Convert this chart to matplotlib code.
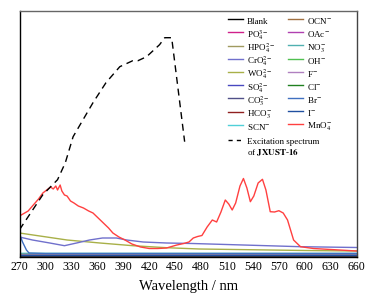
import numpy as np
import matplotlib
matplotlib.use('Agg')
import matplotlib.pyplot as plt
from matplotlib.lines import Line2D

plt.rcParams['font.family'] = ['Liberation Serif', 'DejaVu Serif']
plt.rcParams['mathtext.fontset'] = 'stix'

# excitation spectrum of JXUST-16 (dashed)
exc_wl = [270, 297, 314, 323, 332, 355, 370, 386, 401, 407, 417, 432, 438, 446, 461]
exc_int = [27, 62, 77, 94, 120, 154, 174, 190, 196, 196, 200, 212, 219, 219, 115]

# MnO4- absorption
mno4_wl = [270, 280, 286, 292, 297, 303, 306, 309, 312, 314, 317, 319, 322, 325, 329, 333,
           338, 344, 350, 355, 361, 367, 373, 378, 385, 392, 400, 410, 420, 430, 440, 452,
           460, 466, 471, 476, 481, 487, 493, 498, 503, 508, 512, 516, 520, 525, 529, 533,
           537, 541, 546, 551, 555, 560, 565, 570, 575, 580, 587, 595, 610, 630, 660]
mno4_int = [40.7, 45.7, 51.7, 57.7, 63.7, 67.7, 69.7, 67.7, 70.7, 66.7, 71.7, 65.7, 61.7, 60.7, 55.7, 53.7,
            50.7, 48.7, 45.7, 43.7, 38.7, 33.7, 28.7, 23.7, 19.7, 16.7, 12.7, 9.7, 8.2, 8.2, 8.7, 11.7,
            13.2, 14.7, 18.7, 20.2, 21.2, 29.7, 36.7, 34.7, 44.7, 56.7, 52.7, 46.7, 53.7, 70.7, 78.2, 68.7,
            55.0, 60.7, 73.7, 77.4, 66.7, 45.0, 44.7, 46.0, 43.7, 36.7, 16.7, 10.0, 8.2, 7.2, 5.7]

# CrO4 2-
cro4_wl = [270, 285, 305, 322, 336, 351, 366, 382, 394, 413, 440, 470, 595, 660]
cro4_int = [19.7, 16.7, 13.7, 11.0, 13.7, 16.7, 18.7, 18.7, 16.7, 14.7, 13.7, 13.2, 10.0, 9.2]

# WO4 2-
wo4_wl = [270, 325, 363, 401, 440, 478, 600, 660]
wo4_int = [23.7, 16.7, 13.7, 11.0, 9.0, 7.7, 6.2, 5.7]

# Br-
br_wl = [270, 273.5, 278, 281, 300, 660]
br_int = [22.7, 14.7, 6.7, 3.7, 3.2, 3.2]

# remaining ions: nearly flat baselines
base_wl = [270, 660]
base_levels = {
    'Blank': [1.2, 1.2], 'PO4': [1.8, 1.8], 'HPO4': [2.2, 2.2], 'SO4': [1.6, 1.6],
    'CO3': [1.4, 1.4], 'HCO3': [2.0, 2.0], 'SCN': [3.4, 3.4], 'OCN': [2.4, 2.4],
    'OAc': [2.6, 2.6], 'NO3': [3.3, 3.3], 'OH': [2.8, 2.8], 'F': [2.3, 2.3],
    'Cl': [2.1, 2.1], 'I': [1.5, 1.5],
}

colors = {
    'Blank': '#000000', 'PO4': '#d0208a', 'HPO4': '#a09a60', 'CrO4': '#7070cc',
    'WO4': '#a8b048', 'SO4': '#4848c0', 'CO3': '#505088', 'HCO3': '#902020',
    'SCN': '#50d0d8', 'OCN': '#a07040', 'OAc': '#b040b0', 'NO3': '#50b0b0',
    'OH': '#50c050', 'F': '#b080c0', 'Cl': '#208020', 'Br': '#4070c0',
    'I': '#2050a0', 'MnO4': '#ff4040',
}
labels = {
    'Blank': 'Blank', 'PO4': r'PO$_4^{3-}$', 'HPO4': r'HPO$_4^{2-}$', 'CrO4': r'CrO$_4^{2-}$',
    'WO4': r'WO$_4^{2-}$', 'SO4': r'SO$_4^{2-}$', 'CO3': r'CO$_3^{2-}$', 'HCO3': r'HCO$_3^{-}$',
    'SCN': r'SCN$^{-}$', 'OCN': r'OCN$^{-}$', 'OAc': r'OAc$^{-}$', 'NO3': r'NO$_3^{-}$',
    'OH': r'OH$^{-}$', 'F': r'F$^{-}$', 'Cl': r'Cl$^{-}$', 'Br': r'Br$^{-}$',
    'I': r'I$^{-}$', 'MnO4': r'MnO$_4^{-}$',
}
order = ['Blank', 'PO4', 'HPO4', 'CrO4', 'WO4', 'SO4', 'CO3', 'HCO3', 'SCN',
         'OCN', 'OAc', 'NO3', 'OH', 'F', 'Cl', 'Br', 'I', 'MnO4']

fig = plt.figure(figsize=(3.92, 3.04), dpi=100)
ax = fig.add_axes([19.5 / 392, 1 - 256.7 / 304, 337.2 / 392, 245.7 / 304])

for k, v in base_levels.items():
    ax.plot(base_wl, v, color=colors[k], lw=1)
ax.plot(wo4_wl, wo4_int, color=colors['WO4'], lw=1)
ax.plot(cro4_wl, cro4_int, color=colors['CrO4'], lw=1)
ax.plot(br_wl, br_int, color=colors['Br'], lw=1)
ax.plot(mno4_wl, mno4_int, color=colors['MnO4'], lw=1)
ax.plot(exc_wl, exc_int, color='black', lw=1, linestyle=(0, (5, 3.5)))

ax.set_xlim(270, 660)
ax.set_ylim(0, 245.7)
ax.set_xticks(np.arange(270, 661, 30))
ax.set_yticks([])
ax.tick_params(axis='x', direction='in', length=3, labelsize=8.5, pad=3)
ax.set_xlabel('Wavelength / nm', fontsize=10.5, labelpad=5)
for s in ax.spines.values():
    s.set_linewidth(1)
ax.spines['top'].set_color('#666666')
ax.spines['right'].set_color('#444444')

# legend rows kept at a uniform height via handleheight
handles = [Line2D([], [], color=colors[k], lw=1) for k in order]
leg1 = ax.legend(handles, [labels[k] for k in order], ncol=2, loc='upper left',
                 bbox_to_anchor=(0.618, 0.9865), frameon=False, fontsize=6.5,
                 handlelength=1.7, handleheight=2.06, handletextpad=0.4,
                 columnspacing=1.4, labelspacing=-0.135, borderpad=0, borderaxespad=0)
ax.add_artist(leg1)
exc_handle = Line2D([], [], color='black', lw=1, linestyle=(0, (3, 3)))
blank_handle = Line2D([], [], color='none', lw=0)
leg2 = ax.legend([exc_handle, blank_handle],
                 ['Excitation spectrum', 'of $\\mathbf{JXUST}$-$\\mathbf{16}$'],
                 loc='upper left', bbox_to_anchor=(0.618, 0.489), frameon=False,
                 fontsize=6.5, handlelength=1.7, handleheight=1.2, handletextpad=0.4,
                 labelspacing=0.2, borderpad=0, borderaxespad=0)

fig.savefig('out.png', dpi=100)
